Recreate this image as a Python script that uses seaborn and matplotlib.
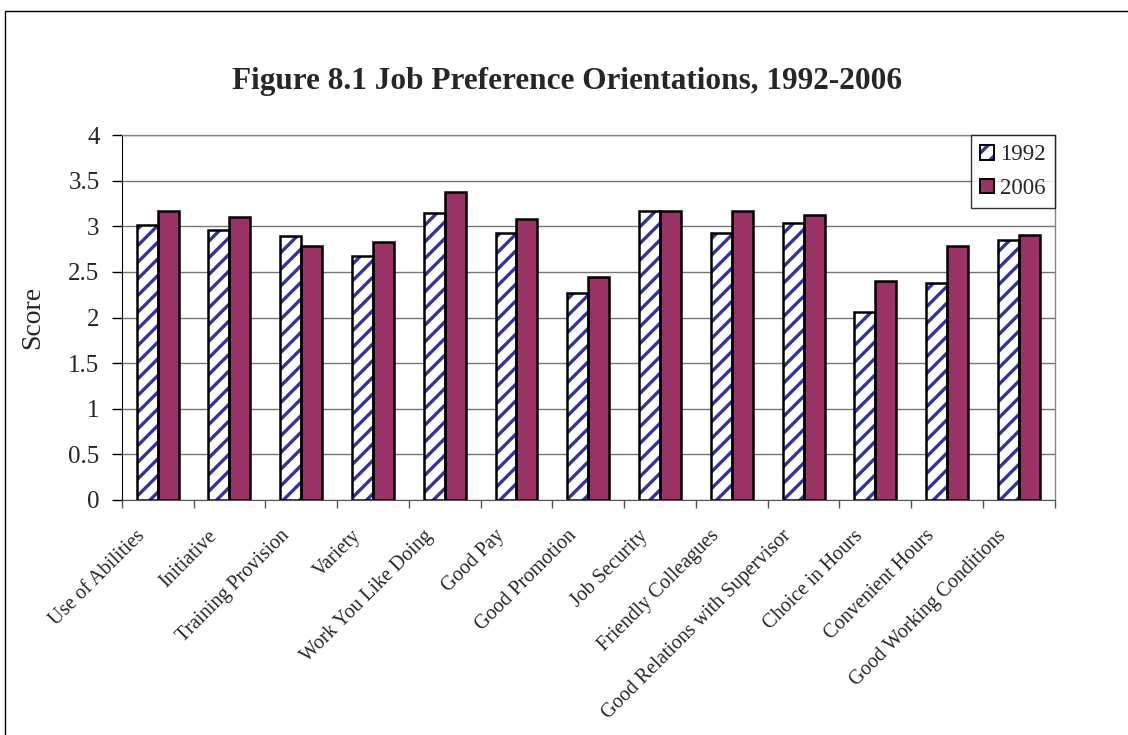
# IMPORT LIBRARIES
import pandas as pd
import seaborn as sns
import matplotlib.pyplot as plt
from matplotlib.patches import Rectangle, Patch
from matplotlib.ticker import FixedLocator, FormatStrFormatter
from matplotlib.transforms import ScaledTranslation

# DATA
categories = ['Use of Abilities', 'Initiative', 'Training Provision', 'Variety',
              'Work You Like Doing', 'Good Pay', 'Good Promotion', 'Job Security',
              'Friendly Colleagues', 'Good Relations with Supervisor',
              'Choice in Hours', 'Convenient Hours', 'Good Working Conditions']
scores_1992 = [3.02, 2.96, 2.89, 2.68, 3.15, 2.93, 2.27, 3.17, 2.93, 3.04, 2.06, 2.38, 2.85]
scores_2006 = [3.17, 3.10, 2.78, 2.83, 3.38, 3.08, 2.45, 3.17, 3.17, 3.13, 2.40, 2.78, 2.91]
years = ['1992', '2006']

df = pd.DataFrame({
    'Category': categories * 2,
    'Score': scores_1992 + scores_2006,
    'Year': [years[0]] * len(categories) + [years[1]] * len(categories),
})

# STYLE
sns.set_style('white')
plt.rcParams['font.family'] = ['Liberation Serif', 'DejaVu Serif']
plt.rcParams['hatch.linewidth'] = 2.4

hatch_blue = '#3333a0'
plum = '#993366'

# PLOT
fig = plt.figure(figsize=(11.28, 7.35), dpi=100)
ax = fig.add_axes([0.108, 0.32, 0.827, 0.496])

sns.barplot(data=df, x='Category', y='Score', hue='Year', hue_order=years,
            palette=['white', plum], width=0.585, saturation=1,
            edgecolor='black', linewidth=1.8, legend=False, ax=ax)

# hatched 1992 bars: blue stripes, black outline drawn on top
for bar in ax.containers[0]:
    bar.set_hatch('//')
    bar.set_edgecolor(hatch_blue)
    bar.set_linewidth(0)
    ax.add_patch(Rectangle(bar.get_xy(), bar.get_width(), bar.get_height(),
                           fill=False, edgecolor='black', linewidth=1.8, zorder=bar.get_zorder() + 0.1))

ax.set_ylim(0, 4)
ax.set_xlim(-0.5, len(categories) - 0.5)
ax.yaxis.set_major_locator(FixedLocator([i * 0.5 for i in range(9)]))
ax.yaxis.set_major_formatter(FormatStrFormatter('%g'))
ax.yaxis.grid(True, color='#777777', linewidth=1.0)
ax.set_axisbelow(True)

# ticks between categories
ax.set_xticks(range(len(categories)))
ax.set_xticklabels(categories, rotation=45, ha='right', va='center',
                   rotation_mode='anchor', fontsize=14.5)
ax.xaxis.set_minor_locator(FixedLocator([i - 0.5 for i in range(len(categories) + 1)]))
ax.tick_params(axis='x', which='major', length=0, pad=24)
ax.tick_params(axis='x', which='minor', length=6, width=1, color='#555555', direction='out', bottom=True)
ax.tick_params(axis='y', length=7, width=1, color='black', direction='out', left=True, labelsize=18, pad=9)
shift = ScaledTranslation(-0.15, 0, fig.dpi_scale_trans)
for lab in ax.get_xticklabels():
    lab.set_transform(lab.get_transform() + shift)

ax.set_xlabel('')
ax.set_ylabel('Score', fontsize=20)
ax.yaxis.set_label_coords(-0.0825, 0.5)

for side in ['top', 'right']:
    ax.spines[side].set_color('#888888')
    ax.spines[side].set_linewidth(1.0)
ax.spines['left'].set_color('black')
ax.spines['bottom'].set_color('#555555')

# LEGEND
h1992 = (Patch(facecolor='white', edgecolor=hatch_blue, hatch='//', linewidth=0),
         Patch(fill=False, edgecolor='black', linewidth=1.4))
h2006 = Patch(facecolor=plum, edgecolor='black', linewidth=1.4)
leg = ax.legend([h1992, h2006], years, loc='upper right', bbox_to_anchor=(1.0, 1.0),
                fontsize=16.5, frameon=True, fancybox=False, edgecolor='black',
                handlelength=0.6, handleheight=0.6, handletextpad=0.25,
                borderpad=0.4, labelspacing=0.55, borderaxespad=0)
leg.get_frame().set_linewidth(1.0)

# TITLE
fig.text(0.503, 0.889, 'Figure 8.1 Job Preference Orientations, 1992-2006',
         ha='center', va='center', fontsize=22.5, fontweight='bold')

# FIGURE BORDER (top and left edges visible)
fig.patches.append(Rectangle((0.0045, -0.1), 1.2, 1.085, transform=fig.transFigure,
                             fill=False, edgecolor='black', linewidth=1.0))

plt.savefig('out.png', dpi=100)
plt.close()
